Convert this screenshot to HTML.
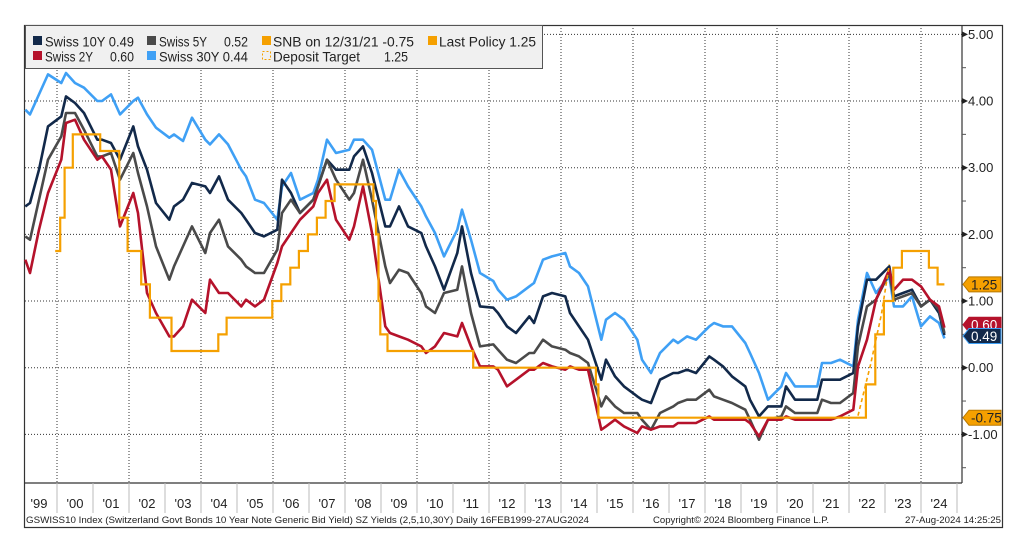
<!DOCTYPE html>
<html><head><meta charset="utf-8"><style>
html,body{margin:0;padding:0;background:#fff;}
svg{display:block;font-family:"Liberation Sans",sans-serif;}
</style></head><body>
<svg id="chart" width="1027" height="558" viewBox="0 0 1027 558" xmlns="http://www.w3.org/2000/svg">
<rect x="24.5" y="25.5" width="978" height="502" fill="#fff" stroke="#333" stroke-width="1.2"/>
<g id="grid"></g>
<g id="series"></g>
<g id="axes"></g>
<g id="legend">
<rect x="25.5" y="25.5" width="517" height="43" fill="#f0f0f0" stroke="#555" stroke-width="1"/>
<rect x="33" y="36" width="9" height="9" fill="#12294a"/>
<text x="45" y="46.5" font-size="14" textLength="89" lengthAdjust="spacingAndGlyphs" fill="#222">Swiss 10Y 0.49</text>
<rect x="147" y="36" width="9" height="9" fill="#4a4a4a"/>
<text x="159" y="46.5" font-size="14" textLength="48" lengthAdjust="spacingAndGlyphs" fill="#222">Swiss 5Y</text>
<text x="224" y="46.5" font-size="14" textLength="24" lengthAdjust="spacingAndGlyphs" fill="#222">0.52</text>
<rect x="262" y="36" width="9" height="9" fill="#f5a000"/>
<text x="273" y="46.5" font-size="14" textLength="141" lengthAdjust="spacingAndGlyphs" fill="#222">SNB on 12/31/21 -0.75</text>
<rect x="428" y="36" width="9" height="9" fill="#f5a000"/>
<text x="439" y="46.5" font-size="14" textLength="97" lengthAdjust="spacingAndGlyphs" fill="#222">Last Policy 1.25</text>
<rect x="33" y="51" width="9" height="9" fill="#b5122b"/>
<text x="45" y="61.5" font-size="14" textLength="48" lengthAdjust="spacingAndGlyphs" fill="#222">Swiss 2Y</text>
<text x="110" y="61.5" font-size="14" textLength="24" lengthAdjust="spacingAndGlyphs" fill="#222">0.60</text>
<rect x="147" y="51" width="9" height="9" fill="#3fa0f5"/>
<text x="159" y="61.5" font-size="14" textLength="89" lengthAdjust="spacingAndGlyphs" fill="#222">Swiss 30Y 0.44</text>
<rect x="262.5" y="51.5" width="8" height="8" fill="none" stroke="#f5a000" stroke-dasharray="2,2"/>
<text x="273" y="61.5" font-size="14" textLength="87" lengthAdjust="spacingAndGlyphs" fill="#222">Deposit Target</text>
<text x="384" y="61.5" font-size="14" textLength="24" lengthAdjust="spacingAndGlyphs" fill="#222">1.25</text>
</g>
<g id="labels"></g>
<text x="26" y="523" font-size="9.5" textLength="563" lengthAdjust="spacingAndGlyphs" fill="#222">GSWISS10 Index (Switzerland Govt Bonds 10 Year Note Generic Bid Yield) SZ Yields (2,5,10,30Y)  Daily 16FEB1999-27AUG2024</text>
<text x="653" y="523" font-size="9.5" textLength="176" lengthAdjust="spacingAndGlyphs" fill="#222">Copyright© 2024 Bloomberg Finance L.P.</text>
<text x="1001" y="523" font-size="9.5" text-anchor="end" textLength="96" lengthAdjust="spacingAndGlyphs" fill="#222">27-Aug-2024 14:25:25</text>
</svg>
<script>
const years = [1999,2000,2001,2002,2003,2004,2005,2006,2007,2008,2009,2010,2011,2012,2013,2014,2015,2016,2017,2018,2019,2020,2021,2022,2023,2024];
const yTicks = [-1,0,1,2,3,4,5];
const yTickLabels = ["-1.00","0.00","1.00","2.00","3.00","4.00","5.00"];
const yearLabels = ["'99","'00","'01","'02","'03","'04","'05","'06","'07","'08","'09","'10","'11","'12","'13","'14","'15","'16","'17","'18","'19","'20","'21","'22","'23","'24"];
const quarterOffsets = [0.12,0.25,0.5,0.75];
const lastOffsets = [0,0.25,0.5,0.65];
const swiss30 = [3.87,3.8,4.1,4.4, 4.27,4.42,4.27,4.2, 4.0,4.0,4.1,3.8, 4.0,4.05,3.8,3.6, 3.45,3.5,3.4,3.75, 3.42,3.35,3.5,3.35, 2.97,2.87,2.52,2.47, 2.22,2.72,2.92,2.52, 2.62,2.82,3.42,3.22, 3.27,3.42,3.42,3.27, 2.52,2.52,2.97,2.72, 2.42,2.27,2.02,1.67, 2.07,2.37,1.92,1.42, 1.3,1.17,1.02,1.07, 1.22,1.27,1.62,1.67, 1.72,1.52,1.42,1.22, 0.42,0.72,0.82,0.72, 0.42,0.12,-0.08,0.22, 0.42,0.37,0.47,0.42, 0.62,0.67,0.62,0.62, 0.37,0.22,-0.08,-0.48, -0.28,-0.08,-0.28,-0.28, -0.28,0.07,0.07,0.12, 0.02,0.72,1.42,1.12, 1.37,0.92,0.92,1.07, 0.62,0.77,0.67,0.44];
const swiss10 = [2.42,2.47,2.97,3.62, 3.77,4.07,3.97,3.82, 3.42,3.42,3.37,3.12, 3.62,3.32,2.97,2.47, 2.22,2.42,2.52,2.77, 2.72,2.62,2.87,2.52, 2.32,2.22,2.02,1.97, 2.07,2.82,2.62,2.32, 2.52,2.72,3.12,2.97, 2.97,3.17,3.32,2.92, 2.12,2.12,2.42,2.12, 2.02,1.82,1.52,1.17, 1.72,2.12,1.42,0.92, 0.9,0.82,0.62,0.52, 0.77,0.67,1.07,1.12, 1.07,0.82,0.62,0.42, -0.18,0.12,-0.13,-0.28, -0.43,-0.48,-0.53,-0.18, -0.08,-0.08,-0.03,-0.08, 0.17,0.12,0.02,-0.13, -0.28,-0.48,-0.73,-0.58, -0.58,-0.28,-0.48,-0.48, -0.48,-0.18,-0.18,-0.18, -0.08,0.62,1.32,1.32, 1.52,1.07,1.12,1.17, 0.92,1.02,0.82,0.49];
const swiss5 = [1.97,1.92,2.52,3.12, 3.47,3.82,3.82,3.57, 3.17,3.17,3.22,2.82, 3.22,2.92,2.42,1.82, 1.32,1.52,1.82,2.12, 1.72,2.02,2.22,1.82, 1.62,1.52,1.42,1.42, 1.77,2.32,2.52,2.32, 2.52,2.72,3.12,2.82, 2.52,2.62,3.12,2.52, 1.52,1.27,1.47,1.42, 1.12,0.92,0.82,1.12, 1.17,1.52,0.82,0.32, 0.35,0.27,0.12,0.07, 0.22,0.22,0.42,0.32, 0.27,0.22,0.17,0.07, -0.58,-0.43,-0.58,-0.68, -0.68,-0.78,-0.93,-0.68, -0.58,-0.53,-0.48,-0.48, -0.33,-0.43,-0.48,-0.53, -0.63,-0.78,-1.08,-0.78, -0.73,-0.58,-0.68,-0.68, -0.68,-0.48,-0.53,-0.53, -0.38,0.32,0.92,1.02, 1.42,1.02,1.07,1.12, 0.92,1.02,0.87,0.52];
const swiss2 = [1.62,1.42,2.07,2.62, 3.12,3.67,3.72,3.42, 3.12,3.17,2.97,2.12, 2.62,2.32,1.12,0.82, 0.47,0.47,0.62,1.02, 0.82,1.32,1.12,1.12, 0.92,1.02,0.92,1.02, 1.57,1.82,2.02,2.22, 2.42,2.62,2.82,2.22, 1.92,2.12,2.72,2.02, 0.62,0.52,0.47,0.42, 0.32,0.22,0.32,0.52, 0.47,0.67,0.32,0.02, 0.02,-0.03,-0.28,-0.18, -0.03,-0.03,0.07,0.02, -0.03,0.02,-0.03,-0.03, -0.93,-0.88,-0.78,-0.88, -0.98,-0.88,-0.93,-0.88, -0.88,-0.83,-0.83,-0.83, -0.73,-0.78,-0.78,-0.78, -0.78,-0.83,-1.03,-0.78, -0.78,-0.73,-0.78,-0.78, -0.78,-0.78,-0.78,-0.73, -0.63,0.02,0.42,1.02, 1.47,1.17,1.32,1.32, 1.22,1.02,0.92,0.60];
const policyDates = [1999.95,2000.09,2000.21,2000.44,2001.2,2001.73,2001.96,2002.34,2002.58,2003.18,2004.48,2004.71,2005.98,2006.23,2006.48,2006.72,2006.97,2007.22,2007.46,2007.71,2008.79,2008.86,2008.93,2008.98,2009.18,2011.56,2014.97,2015.04,2022.47,2022.73,2022.97,2023.23,2023.47,2024.22,2024.46];
const policyRates = [1.75,2.25,3.0,3.5,3.25,2.25,1.75,1.25,0.75,0.25,0.5,0.75,1.0,1.25,1.5,1.75,2.0,2.25,2.5,2.75,2.5,2.0,1.0,0.5,0.25,0.0,-0.25,-0.75,-0.25,0.5,1.0,1.5,1.75,1.5,1.25];
const policyEnd = 2024.65;
const depositDates = [2022.25,2022.6,2022.9,2023.12];
const depositRates = [-0.72,0.05,0.8,1.55];
const endLabels = ["1.25","-0.75","0.60","0.49"];
const endValues = [1.25,-0.75,0.60,0.49];

const NS="http://www.w3.org/2000/svg";
const X0=57, XPY=36, Y0=367.7, YPU=66.67, LEFT=25, RIGHT=962, TOP=25, BOTTOM=483;
function xs(t){return X0+(t-2000)*XPY;}
function ys(v){return Y0-v*YPU;}
function mk(tag,parent,attrs){const e=document.createElementNS(NS,tag);for(const k in attrs)e.setAttribute(k,attrs[k]);parent.appendChild(e);return e;}
const grid=document.getElementById('grid'), ser=document.getElementById('series'), axes=document.getElementById('axes'), labels=document.getElementById('labels');

yTicks.forEach(v=>{const l=mk('line',grid,{x1:LEFT,x2:RIGHT,y1:ys(v),y2:ys(v),stroke:'#333','stroke-width':1,'stroke-dasharray':'1,2'});

});
years.forEach(y=>{if(y%2===0){const l=mk('line',grid,{x1:xs(y),x2:xs(y),y1:TOP,y2:BOTTOM,stroke:'#333','stroke-width':1,'stroke-dasharray':'1,2'});

}});

const dates=[];
years.forEach((y,i)=>{const offs=(i===years.length-1)?lastOffsets:quarterOffsets;offs.forEach(o=>dates.push(y+o));});
function drawLine(vals,color,name,w){
  let d='';vals.forEach((v,i)=>{d+=(i?'L':'M')+xs(dates[i]).toFixed(1)+','+ys(v).toFixed(1);});
  const p=mk('path',ser,{d:d,fill:'none',stroke:color,'stroke-width':w,'stroke-linejoin':'round'});
  
  
}
drawLine(swiss30,'#3fa0f5','line-swiss-30y',2.6);
drawLine(swiss10,'#12294a','line-swiss-10y',2.6);
drawLine(swiss5,'#4a4a4a','line-swiss-5y',2.6);
drawLine(swiss2,'#b5122b','line-swiss-2y',2.6);

let dd='';depositDates.forEach((t,i)=>{dd+=(i?'L':'M')+xs(t).toFixed(1)+','+ys(depositRates[i]).toFixed(1);});
const dp=mk('path',ser,{d:dd,fill:'none',stroke:'#f5a000','stroke-width':1.6,'stroke-dasharray':'4,3'});



let pd='';policyDates.forEach((t,i)=>{const y=ys(policyRates[i]);if(i===0)pd+='M'+xs(t).toFixed(1)+','+y.toFixed(1);else pd+='V'+y.toFixed(1);const tn=(i<policyDates.length-1)?policyDates[i+1]:policyEnd;pd+='H'+xs(tn).toFixed(1);});
const pp=mk('path',ser,{d:pd,fill:'none',stroke:'#f5a000','stroke-width':2.2});



const ax1=mk('line',axes,{x1:RIGHT,x2:RIGHT,y1:TOP,y2:BOTTOM,stroke:'#333','stroke-width':1.2});


const ax2=mk('line',axes,{x1:LEFT,x2:RIGHT,y1:BOTTOM,y2:BOTTOM,stroke:'#333','stroke-width':1.2});


yTicks.forEach((v,i)=>{const y=ys(v);
  const tk=mk('path',axes,{d:`M${RIGHT},${y-3}L${RIGHT+6},${y}L${RIGHT},${y+3}Z`,fill:'#222'});
  
  
  const t=mk('text',axes,{x:RIGHT+6,y:y+4.5,'font-size':13,fill:'#222'});t.textContent=yTickLabels[i];
  
  
  if(v<5){const m=mk('line',axes,{x1:RIGHT,x2:RIGHT+4,y1:ys(v+0.5),y2:ys(v+0.5),stroke:'#555','stroke-width':1});
  
  }
});
const mm=mk('line',axes,{x1:RIGHT,x2:RIGHT+4,y1:ys(-1.5),y2:ys(-1.5),stroke:'#555','stroke-width':1});


years.forEach((y,i)=>{
  const s=mk('line',axes,{x1:xs(y+1),x2:xs(y+1),y1:BOTTOM,y2:513,stroke:'#bbb','stroke-width':1});
  
  
  const t=mk('text',axes,{x:xs(y+0.5),y:508,'font-size':13,'text-anchor':'middle',fill:'#222'});t.textContent=yearLabels[i];
  
  
});

const lblStyle=[{fill:'#f5a000',stroke:'#b87800',text:'#222'},{fill:'#f5a000',stroke:'#b87800',text:'#222'},{fill:'#b5122b',stroke:'#b5122b',text:'#fff'},{fill:'#12294a',stroke:'#3fa0f5',text:'#fff'}];
const lblNames=['label-last-policy','label-snb-1231','label-swiss-2y','label-swiss-10y'];
endValues.forEach((v,i)=>{let y=ys(v); if(i===2) y-=3; if(i===3) y+=1;
  const s=lblStyle[i];
  const g=mk('g',labels,{});
  
  
  mk('path',g,{d:`M${RIGHT+1},${y}L${RIGHT+7},${y-7.5}H1001V${y+7.5}H${RIGHT+7}Z`,fill:s.fill,stroke:s.stroke,'stroke-width':1});
  const t=mk('text',g,{x:RIGHT+9,y:y+5,'font-size':13.5,fill:s.text});t.textContent=endLabels[i];
});
</script>
</body></html>
